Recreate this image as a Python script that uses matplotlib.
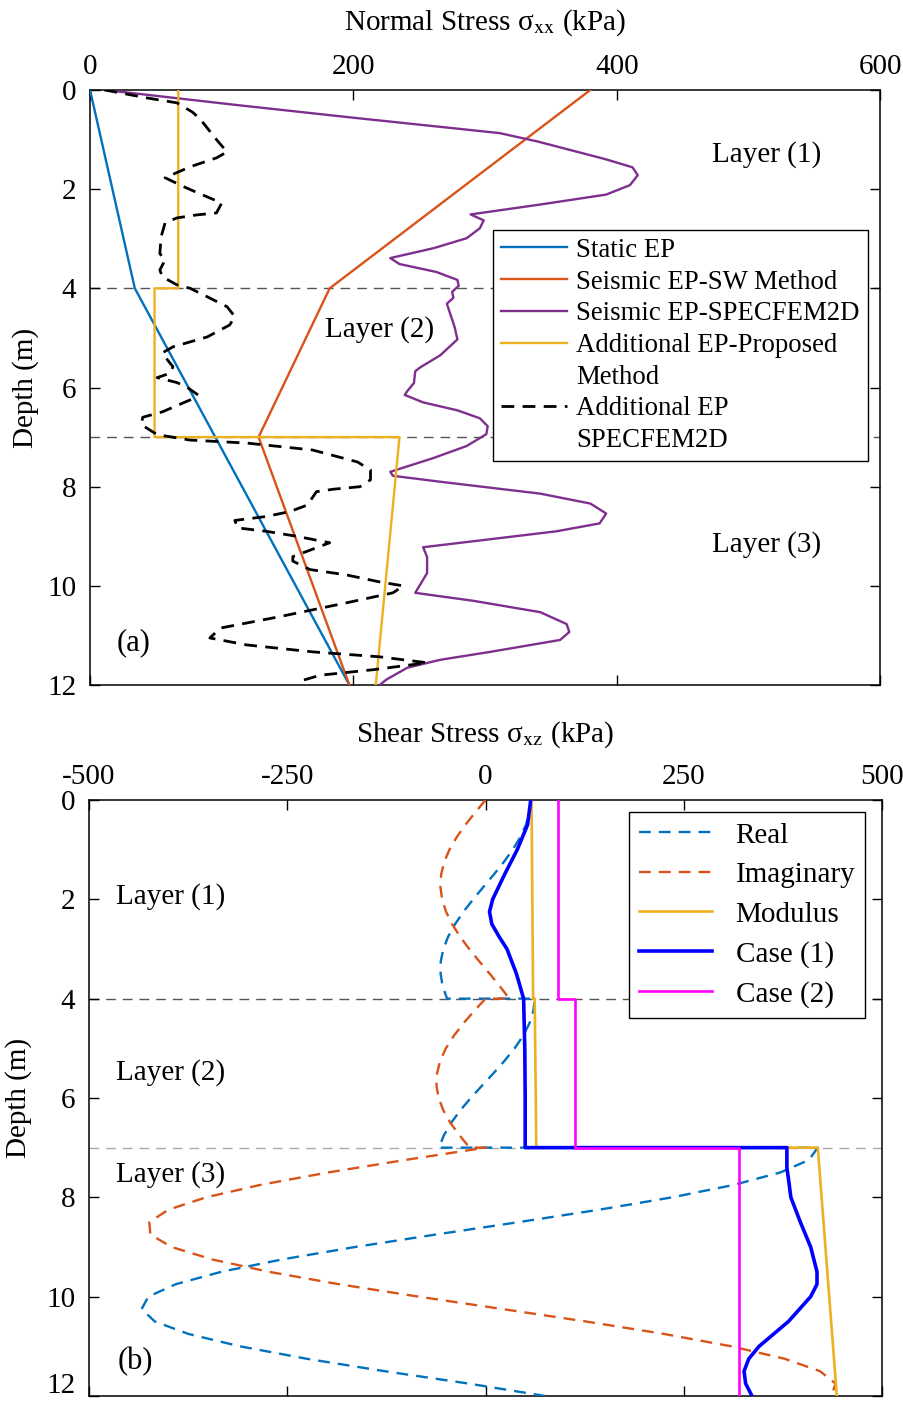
import matplotlib
matplotlib.use('Agg')
import matplotlib.pyplot as plt
from matplotlib.lines import Line2D
from matplotlib.transforms import ScaledTranslation

plt.rcParams['font.family'] = ['Liberation Serif', 'DejaVu Serif']
plt.rcParams['mathtext.fontset'] = 'stix'
plt.rcParams['font.size'] = 21
plt.rcParams['axes.unicode_minus'] = False

# ---------------- Panel (a): normal stress ----------------
static_depth = [0, 4, 12]
static_ep = [0, 34, 197]

sw_depth = [0, 4, 7, 12]
sw_ep = [380, 182, 128, 197]

prop_depth = [0, 4, 4, 7, 7, 12]
prop_ep = [67, 67, 49, 49, 235, 217]

spec_depth = [0, 0.3, 0.56, 0.87, 1.04, 1.40, 1.56, 1.72, 1.92, 2.11, 2.31, 2.51, 2.63,
              2.79, 2.99, 3.19, 3.39, 3.51, 3.67, 3.83, 3.95, 4.07, 4.19, 4.31, 4.79,
              5.03, 5.35, 5.59, 5.67, 5.91, 6.07, 6.15, 6.30, 6.46, 6.62, 6.78, 6.94,
              7.18, 7.42, 7.70, 7.78, 7.90, 8.14, 8.34, 8.54, 8.74, 8.90, 9.10, 9.22,
              9.42, 9.74, 10.14, 10.30, 10.53, 10.77, 10.93, 11.09, 11.33, 11.49,
              11.65, 11.89, 12.0]
spec_ep = [11, 110, 200, 311, 340, 392, 412, 416, 410, 392, 342, 289, 299,
           296, 286, 261, 228, 235, 263, 279, 280, 275, 276, 271, 277,
           279, 266, 251, 247, 246, 241, 239, 253, 279, 296, 302, 301,
           286, 261, 228, 230, 266, 342, 380, 392, 387, 354, 291, 253,
           256, 256, 247, 291, 342, 362, 364, 357, 304, 266,
           241, 225, 220]

add_depth = [0, 0.16, 0.26, 0.45, 0.6, 1.0, 1.25, 1.37, 1.55, 1.77, 1.95, 2.1, 2.28,
             2.48, 2.52, 2.58, 2.68, 2.96, 3.3, 3.43, 3.63, 3.77, 3.93, 4.0, 4.17,
             4.37, 4.57, 4.74, 4.98, 5.18, 5.3, 5.45, 5.58, 5.71, 5.8, 5.9, 6.0,
             6.15, 6.25, 6.49, 6.6, 6.75, 6.95, 7.06, 7.12, 7.26, 7.5, 7.66, 7.86,
             8.0, 8.05, 8.1, 8.37, 8.5, 8.6, 8.68, 8.83, 8.9, 9.0, 9.13, 9.23, 9.41,
             9.5, 9.67, 9.78, 9.92, 10.0, 10.14, 10.34, 10.62, 10.85, 11.05, 11.19,
             11.33, 11.43, 11.55, 11.69, 11.8, 11.9, 12.0]
add_ep = [11, 43, 66, 78, 84, 96, 104, 96, 76, 57, 71, 84, 100,
          96, 81, 66, 57, 54, 53, 57, 53, 55, 66, 76, 89,
          104, 110, 106, 89, 63, 55, 59, 63, 61, 51, 66, 74,
          82, 76, 55, 40, 39, 51, 76, 119, 169, 203, 213, 213,
          205, 185, 172, 165, 152, 134, 110, 112, 134, 157, 182, 172, 154,
          154, 167, 195, 220, 238, 230, 195, 144, 99, 91, 119,
          169, 220, 256, 215, 175, 162, 163]

# ---------------- Panel (b): shear stress ----------------
d1 = [0, 0.25, 0.5, 0.75, 1.0, 1.25, 1.5, 1.75, 2.0, 2.25, 2.5, 2.75, 3.0, 3.25, 3.5, 3.75, 4.0]
real1 = [57, 55.5, 51, 43.8, 34.3, 23, 10.5, -2.6, -15.6, -27.8, -38.4, -47.1, -53.2, -56.5, -56.7, -54.1, -48.5]
imag1 = [0, -13, -25.4, -36.4, -45.5, -52.2, -56, -56.9, -54.8, -49.8, -42.1, -32.2, -20.6, -7.9, 5.3, 18, 29.9]

d2 = [4.0, 4.25, 4.5, 4.75, 5.0, 5.25, 5.5, 5.75, 6.0, 6.25, 6.5, 6.75, 7.0]
real2 = [62, 60.3, 55.3, 47.3, 36.7, 24, 10.2, -4.3, -18.6, -31.9, -43.3, -52.5, -58.7]
imag2 = [0, -14.4, -28, -40.1, -50, -57.2, -61.1, -61.9, -59.2, -53.2, -44.3, -33, -20]

d3 = [7.0, 7.25, 7.5, 7.75, 8.0, 8.25, 8.5, 8.75, 9.0, 9.25, 9.5, 9.75, 10.0, 10.25,
      10.5, 10.75, 11.0, 11.25, 11.5, 11.75, 12.0]
real3 = [419, 407.6, 371.7, 313.1, 235.6, 143.2, 41.8, -62.8, -164.2, -256.2, -333.2,
         -390.7, -425.2, -433.7, -417.1, -375, -309.8, -225.9, -127.8, -21.6, 75]
imag3 = [0, -102, -198.5, -284, -352.2, -400, -424, -422.7, -396, -345.1, -273.3, -185,
         -84.5, 21.3, 126.4, 224.6, 309.8, 377, 421.7, 441.4, 436]

mod_depth = [0, 4, 4, 7, 7, 12]
modulus = [58, 60, 62, 64, 419, 443]

case1_depth = [0, 0.5, 1.0, 1.5, 2.0, 2.25, 2.5, 2.75, 3.0, 3.5, 4.0, 5.0, 6.0, 7.0,
               7.0, 7.4, 7.75, 8.0, 8.5, 9.0, 9.5, 9.75, 10.0, 10.5, 11.0, 11.25, 11.5, 11.75, 12.0]
case1 = [57, 53, 40, 24, 9, 5, 8, 17, 27, 39, 48, 49.5, 50, 50,
         380, 380, 383, 385, 397, 410, 418, 418, 410, 382, 345, 332, 326, 328, 336]

case2_depth = [0, 4, 4, 7, 7, 12]
case2 = [91, 91, 113, 113, 320, 320]

layer_depths = [4, 7]

C_BLUE = '#0072BD'
C_ORANGE = '#D95319'
C_YELLOW = '#EDB120'
C_PURPLE = '#7E2F8E'

fig = plt.figure(figsize=(9.04, 14.01), dpi=100)
ax1 = fig.add_axes([0.0996, 0.511, 0.8739, 0.4248])
ax2 = fig.add_axes([0.0985, 0.0036, 0.8772, 0.4254])

# ---- panel a ----
for d in layer_depths:
    ax1.axhline(d, color='#555555', lw=1.0, ls=(0, (7, 5)), zorder=1)
l1, = ax1.plot(static_ep, static_depth, color=C_BLUE, lw=1.7, zorder=3)
l2, = ax1.plot(sw_ep, sw_depth, color=C_ORANGE, lw=1.7, zorder=3)
l3, = ax1.plot(spec_ep, spec_depth, color=C_PURPLE, lw=1.7, zorder=3)
l4, = ax1.plot(prop_ep, prop_depth, color=C_YELLOW, lw=1.7, zorder=3)
l5, = ax1.plot(add_ep, add_depth, color='black', lw=2.0, ls=(0, (4.6, 3.0)), zorder=4)
blank = Line2D([], [], color='none')
ax1.legend([l1, l2, l3, l4, blank, l5, blank],
           ['Static EP', 'Seismic EP-SW Method', 'Seismic EP-SPECFEM2D',
            'Additional EP-Proposed', 'Method', 'Additional EP', 'SPECFEM2D'],
           loc='upper left', bbox_to_anchor=(0.510, 0.765), fontsize=19.3,
           frameon=True, fancybox=False, framealpha=1, edgecolor='black',
           borderpad=0.3, labelspacing=0.25, handlelength=2.45, handletextpad=0.35,
           borderaxespad=0)
ax1.set_xlim(0, 600)
ax1.set_ylim(12, 0)
ax1.set_xticks([0, 200, 400, 600])
ax1.set_yticks([0, 2, 4, 6, 8, 10, 12])
ax1.xaxis.set_label_position('top')
ax1.set_xlabel('Normal Stress σ$_{\\mathrm{xx}}$ (kPa)', fontsize=21, labelpad=18)
ax1.set_ylabel('Depth (m)', fontsize=21, labelpad=6)
ax1.text(514, 1.31, 'Layer (1)', ha='center', va='center', fontsize=21)
ax1.text(220, 4.84, 'Layer (2)', ha='center', va='center', fontsize=21)
ax1.text(514, 9.17, 'Layer (3)', ha='center', va='center', fontsize=21)
ax1.text(33, 11.15, '(a)', ha='center', va='center', fontsize=22)

# ---- panel b ----
ax2.axhline(4, color='#555555', lw=1.0, ls=(0, (7, 5)), zorder=1)
ax2.axhline(7, color='#aaaaaa', lw=1.0, ls=(0, (7, 5)), zorder=1)
dash = (0, (5.0, 3.4))
r_depth = d1 + d2 + d3
r_vals = real1 + real2 + real3
i_vals = imag1 + imag2 + imag3
lr, = ax2.plot(r_vals, r_depth, color=C_BLUE, lw=1.7, ls=dash, zorder=3)
li, = ax2.plot(i_vals, r_depth, color=C_ORANGE, lw=1.7, ls=dash, zorder=3)
lm, = ax2.plot(modulus, mod_depth, color=C_YELLOW, lw=1.9, zorder=3)
lc1, = ax2.plot(case1, case1_depth, color='#0000FF', lw=2.6, zorder=4)
lc2, = ax2.plot(case2, case2_depth, color='#FF00FF', lw=1.9, zorder=4)
ax2.legend([lr, li, lm, lc1, lc2], ['Real', 'Imaginary', 'Modulus', 'Case (1)', 'Case (2)'],
           loc='upper left', bbox_to_anchor=(0.681, 0.98), fontsize=21,
           frameon=True, fancybox=False, framealpha=1, edgecolor='black',
           borderpad=0.35, labelspacing=0.45, handlelength=2.5, handletextpad=0.8,
           borderaxespad=0)
ax2.set_xlim(-500, 500)
ax2.set_ylim(12, 0)
ax2.set_xticks([-500, -250, 0, 250, 500])
ax2.set_yticks([0, 2, 4, 6, 8, 10, 12])
ax2.xaxis.set_label_position('top')
ax2.set_xlabel('Shear Stress σ$_{\\mathrm{xz}}$ (kPa)', fontsize=21, labelpad=16)
ax2.set_ylabel('Depth (m)', fontsize=21, labelpad=10)
ax2.text(-397, 1.95, 'Layer (1)', ha='center', va='center', fontsize=21)
ax2.text(-397, 5.49, 'Layer (2)', ha='center', va='center', fontsize=21)
ax2.text(-397, 7.54, 'Layer (3)', ha='center', va='center', fontsize=21)
ax2.text(-441, 11.3, '(b)', ha='center', va='center', fontsize=22)

for ax in (ax1, ax2):
    ax.tick_params(axis='x', direction='in', top=True, bottom=True,
                   labeltop=True, labelbottom=False, length=7, width=1, labelsize=21, pad=7)
    ax.tick_params(axis='y', direction='in', left=True, right=True,
                   length=7, width=1, labelsize=21, pad=10)
    for s in ax.spines.values():
        s.set_linewidth(1.1)

# keep the lowest depth label of panel (b) inside the figure
lab = ax2.yaxis.get_major_ticks()[-1].label1
lab.set_transform(lab.get_transform() + ScaledTranslation(0, 9 / 72, fig.dpi_scale_trans))

fig.savefig('out.png', dpi=100)
